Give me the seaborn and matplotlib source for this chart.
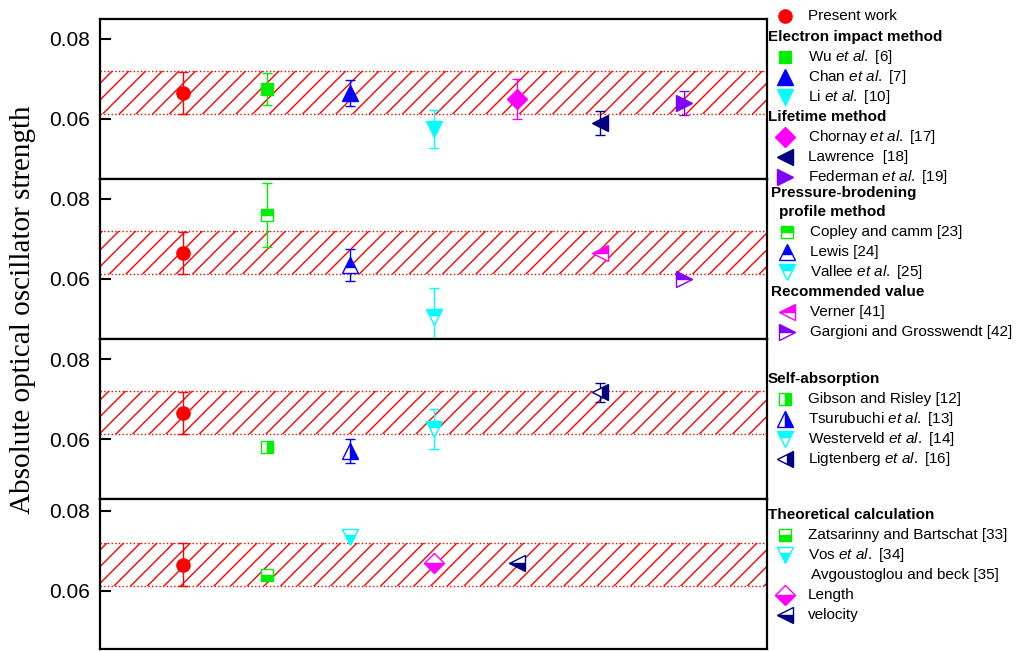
import matplotlib.pyplot as plt
import seaborn as sns
from matplotlib.lines import Line2D

# ===============================
# 1. Data
# ===============================
band_low, band_high = 0.0612, 0.0719

present_x = 1
present_y = 0.0665
present_err = 0.0053

# panel 1 : electron impact + lifetime
p1_names = ["Wu", "Chan", "Li", "Chornay", "Lawrence", "Federman"]
p1_x = [2, 3, 4, 5, 6, 7]
p1_y = [0.0675, 0.0665, 0.0575, 0.0650, 0.0590, 0.0640]
p1_err = [0.0040, 0.0033, 0.0048, 0.0050, 0.0029, 0.0029]

# panel 2 : pressure broadening + recommended
p2_names = ["Copley", "Lewis", "Vallee", "Verner", "Gargioni"]
p2_x = [2, 3, 4, 6, 7]
p2_y = [0.0760, 0.0634, 0.0505, 0.0666, 0.0600]
p2_err = [0.0080, 0.0040, 0.0073, 0, 0]

# panel 3 : self-absorption
p3_names = ["Gibson", "Tsurubuchi", "Westerveld", "Ligtenberg"]
p3_x = [2, 3, 4, 6]
p3_y = [0.0579, 0.0570, 0.0625, 0.0717]
p3_err = [0, 0.0029, 0.0050, 0.0024]

# panel 4 : theoretical
p4_names = ["Zatsarinny", "Vos", "Length", "velocity"]
p4_x = [2, 3, 4, 5]
p4_y = [0.0638, 0.0735, 0.0669, 0.0668]
p4_err = [0, 0, 0, 0]

# ===============================
# 2. Marker styles
# ===============================
GREEN, BLUE, CYAN = "#00ee00", "#0000ff", "#00ffff"
MAG, NAVY, PURP, RED = "#ff00ff", "#000080", "#8000ff", "#ff0000"

styles = {
    "Present": dict(marker="o", color=RED, fillstyle="full", ms=9.5),
    "Wu": dict(marker="s", color=GREEN, fillstyle="full", ms=8.5),
    "Chan": dict(marker="^", color=BLUE, fillstyle="full", ms=11),
    "Li": dict(marker="v", color=CYAN, fillstyle="full", ms=11),
    "Chornay": dict(marker="D", color=MAG, fillstyle="full", ms=10.5),
    "Lawrence": dict(marker="<", color=NAVY, fillstyle="full", ms=11),
    "Federman": dict(marker=">", color=PURP, fillstyle="full", ms=11),
    "Copley": dict(marker="s", color=GREEN, fillstyle="top", ms=8.5),
    "Lewis": dict(marker="^", color=BLUE, fillstyle="top", ms=11),
    "Vallee": dict(marker="v", color=CYAN, fillstyle="top", ms=11),
    "Verner": dict(marker="<", color=MAG, fillstyle="top", ms=11),
    "Gargioni": dict(marker=">", color=PURP, fillstyle="top", ms=11),
    "Gibson": dict(marker="s", color=GREEN, fillstyle="right", ms=8.5),
    "Tsurubuchi": dict(marker="^", color=BLUE, fillstyle="right", ms=11),
    "Westerveld": dict(marker="v", color=CYAN, fillstyle="top", ms=11),
    "Ligtenberg": dict(marker="<", color=NAVY, fillstyle="right", ms=11),
    "Zatsarinny": dict(marker="s", color=GREEN, fillstyle="bottom", ms=8.5),
    "Vos": dict(marker="v", color=CYAN, fillstyle="bottom", ms=11),
    "Length": dict(marker="D", color=MAG, fillstyle="bottom", ms=10.5),
    "velocity": dict(marker="<", color=NAVY, fillstyle="bottom", ms=11),
}

# ===============================
# 3. Figure setup
# ===============================
sns.set_theme(style="white")
plt.rcParams["font.family"] = ["Liberation Sans", "DejaVu Sans"]
plt.rcParams["text.color"] = "black"
plt.rcParams["mathtext.fontset"] = "custom"
plt.rcParams["mathtext.rm"] = "Liberation Sans"
plt.rcParams["mathtext.it"] = "Liberation Sans:italic"
plt.rcParams["hatch.color"] = RED
plt.rcParams["hatch.linewidth"] = 1.0

W, H = 1019, 651
fig = plt.figure(figsize=(W / 100, H / 100), dpi=100)

panel_px = [(19, 179), (179, 339), (339, 499), (499, 649)]
ylims = [(0.045, 0.085), (0.045, 0.085), (0.045, 0.085), (0.0454, 0.0829)]
panels = [(p1_names, p1_x, p1_y, p1_err), (p2_names, p2_x, p2_y, p2_err),
          (p3_names, p3_x, p3_y, p3_err), (p4_names, p4_x, p4_y, p4_err)]
left_px, right_px = 100, 767


def draw_point(ax, x, y, err, st):
    kw = dict(marker=st["marker"], ms=st["ms"], fillstyle=st["fillstyle"],
              color=st["color"], mfc=st["color"], mec=st["color"],
              markerfacecoloralt="white", mew=1.0, linestyle="none", zorder=4)
    if err:
        ax.errorbar([x], [y], yerr=[err], capsize=3.6, elinewidth=1, capthick=1,
                    ecolor=st["color"], **kw)
    else:
        ax.plot([x], [y], **kw)


for (top, bot), ylim, (names, xs, ys, errs) in zip(panel_px, ylims, panels):
    ax = fig.add_axes([left_px / W, 1 - bot / H, (right_px - left_px) / W, (bot - top) / H])
    ax.axhspan(band_low, band_high, facecolor="none", edgecolor=RED, hatch="//", linewidth=0)
    ax.axhline(band_low, color=RED, lw=1, ls=":")
    ax.axhline(band_high, color=RED, lw=1, ls=":")
    draw_point(ax, present_x, present_y, present_err, styles["Present"])
    for n, x, y, e in zip(names, xs, ys, errs):
        draw_point(ax, x, y, e, styles[n])
    ax.set_xlim(0, 8)
    ax.set_ylim(*ylim)
    ax.set_xticks([])
    ax.set_yticks([0.06, 0.08])
    ax.tick_params(axis="y", direction="in", length=8, width=1.5, labelsize=15,
                   pad=7, left=True, colors="black")
    for s in ax.spines.values():
        s.set_color("black")
        s.set_linewidth(1.6)

fig.text(23 / W, 1 - 310 / H, "Absolute optical oscillator strength", rotation=90,
         ha="center", va="center", fontsize=21, family="Liberation Serif")

# ===============================
# 4. Legend (grouped, drawn at the right)
# ===============================
ET = r"$\mathit{et\ al.}$"


def header(y, text, x=768):
    fig.text(x / W, 1 - y / H, text, fontsize=11, weight="bold", va="center", ha="left")


def row(y, text, key=None, mx=785, tx=808):
    if key is not None:
        st = styles[key]
        fig.add_artist(Line2D([mx / W], [1 - y / H], transform=fig.transFigure,
                              marker=st["marker"], ms=st["ms"], fillstyle=st["fillstyle"],
                              color=st["color"], mfc=st["color"], mec=st["color"],
                              markerfacecoloralt="white", mew=1.0, linestyle="none"))
    fig.text(tx / W, 1 - y / H, text, fontsize=11, va="center", ha="left")


row(16, "Present work", "Present")
header(37, "Electron impact method")
row(57, "Wu " + ET + " [6]", "Wu")
row(77, "Chan " + ET + " [7]", "Chan")
row(97, "Li " + ET + " [10]", "Li")
header(117, "Lifetime method")
row(137, "Chornay " + ET + " [17]", "Chornay")
row(157, "Lawrence  [18]", "Lawrence")
row(177, "Federman " + ET + " [19]", "Federman")
header(193, "Pressure-brodening", x=771)
header(212, "profile method", x=779)
row(232, "Copley and camm [23]", "Copley", mx=787, tx=810)
row(252, "Lewis [24]", "Lewis", mx=787, tx=810)
row(272, "Vallee " + ET + " [25]", "Vallee", mx=787, tx=810)
header(292, "Recommended value", x=771)
row(312, "Verner [41]", "Verner", mx=787, tx=810)
row(332, "Gargioni and Grosswendt [42]", "Gargioni", mx=787, tx=810)
header(379, "Self-absorption")
row(399, "Gibson and Risley [12]", "Gibson")
row(419, "Tsurubuchi " + ET + " [13]", "Tsurubuchi")
row(439, "Westerveld " + ET + " [14]", "Westerveld")
row(459, "Ligtenberg " + ET + " [16]", "Ligtenberg")
header(515, "Theoretical calculation")
row(535, "Zatsarinny and Bartschat [33]", "Zatsarinny")
row(555, "Vos " + ET + " [34]", "Vos")
row(575, "Avgoustoglou and beck [35]", None, tx=811)
row(595, "Length", "Length")
row(615, "velocity", "velocity")

plt.savefig("out.png", dpi=100, facecolor="white")
